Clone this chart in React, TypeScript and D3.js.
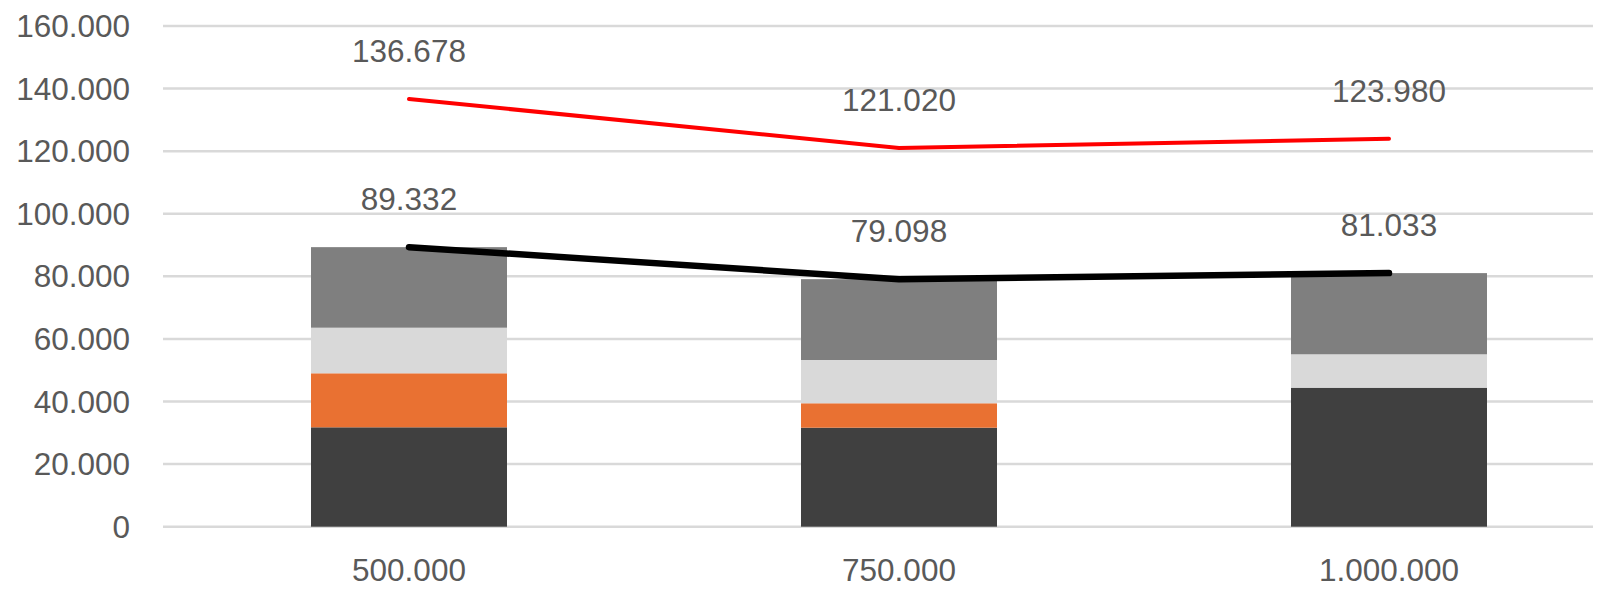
import React from "react";
import * as d3 from "d3";

const categories = ["500.000", "750.000", "1.000.000"];
const darkSeries = [31760, 31640, 44420];
const orangeSeries = [17260, 7800, 0];
const lightSeries = [14570, 13830, 10670];
const graySeries = [25742, 25828, 25943];
const totalLine = [89332, 79098, 81033];
const redLine = [136678, 121020, 123980];
const yTicks = [0, 20000, 40000, 60000, 80000, 100000, 120000, 140000, 160000];

const seriesKeys = ["dark", "orange", "light", "gray"];
const seriesColors: Record<string, string> = {
  dark: "#404040",
  orange: "#E97132",
  light: "#D9D9D9",
  gray: "#7F7F7F",
};

const W = 1614;
const H = 589;
const FONT = "'Liberation Sans', Arial, sans-serif";
const FS = 31.5;
const TEXT = "#595959";

const fmt = (v: number) => {
  if (v === 0) return "0";
  return d3.format(",.0f")(v).replace(/,/g, ".");
};
const fmtLabel = (v: number) => (v / 1000).toFixed(3);

export default function App() {
  const rows = categories.map((c, i) => ({
    cat: c,
    dark: darkSeries[i],
    orange: orangeSeries[i],
    light: lightSeries[i],
    gray: graySeries[i],
  }));

  const x = d3
    .scaleBand<string>()
    .domain(categories)
    .range([164, 1634])
    .paddingInner(0.6)
    .paddingOuter(0.3);
  const y = d3.scaleLinear().domain([0, 160000]).range([526.7, 26]);

  const stack = d3.stack<any>().keys(seriesKeys);
  const stacked = stack(rows);

  const cx = (c: string) => (x(c) as number) + x.bandwidth() / 2;

  const line = d3
    .line<number>()
    .x((_, i) => cx(categories[i]))
    .y((d) => y(d));

  const gridX1 = 163;
  const gridX2 = 1593;

  return (
    <svg
      width={W}
      height={H}
      style={{ position: "absolute", left: 0, top: 0, background: "#fff" }}
      fontFamily={FONT}
    >
      {yTicks.map((t) => (
        <g key={t}>
          <line
            x1={gridX1}
            x2={gridX2}
            y1={y(t)}
            y2={y(t)}
            stroke="#D9D9D9"
            strokeWidth={2.5}
          />
          <text
            x={130}
            y={y(t) + 11}
            textAnchor="end"
            fontSize={FS}
            fill={TEXT}
          >
            {fmt(t)}
          </text>
        </g>
      ))}

      {stacked.map((s) => (
        <g key={s.key} fill={seriesColors[s.key]}>
          {s.map((d, i) =>
            d[1] - d[0] > 0 ? (
              <rect
                key={i}
                x={x(categories[i])}
                width={x.bandwidth()}
                y={y(d[1])}
                height={y(d[0]) - y(d[1])}
              />
            ) : null
          )}
        </g>
      ))}

      <path
        d={line(totalLine) || ""}
        fill="none"
        stroke="#000"
        strokeWidth={6.5}
        strokeLinecap="round"
        strokeLinejoin="round"
      />
      <path
        d={line(redLine) || ""}
        fill="none"
        stroke="#FF0000"
        strokeWidth={4}
        strokeLinecap="round"
        strokeLinejoin="round"
      />

      {totalLine.map((v, i) => (
        <text
          key={"t" + i}
          x={cx(categories[i])}
          y={y(v) - 37}
          textAnchor="middle"
          fontSize={FS}
          fill={TEXT}
        >
          {fmtLabel(v)}
        </text>
      ))}
      {redLine.map((v, i) => (
        <text
          key={"r" + i}
          x={cx(categories[i])}
          y={y(v) - 37}
          textAnchor="middle"
          fontSize={FS}
          fill={TEXT}
        >
          {fmtLabel(v)}
        </text>
      ))}

      {categories.map((c) => (
        <text
          key={c}
          x={cx(c)}
          y={581}
          textAnchor="middle"
          fontSize={FS}
          fill={TEXT}
        >
          {c}
        </text>
      ))}
    </svg>
  );
}
